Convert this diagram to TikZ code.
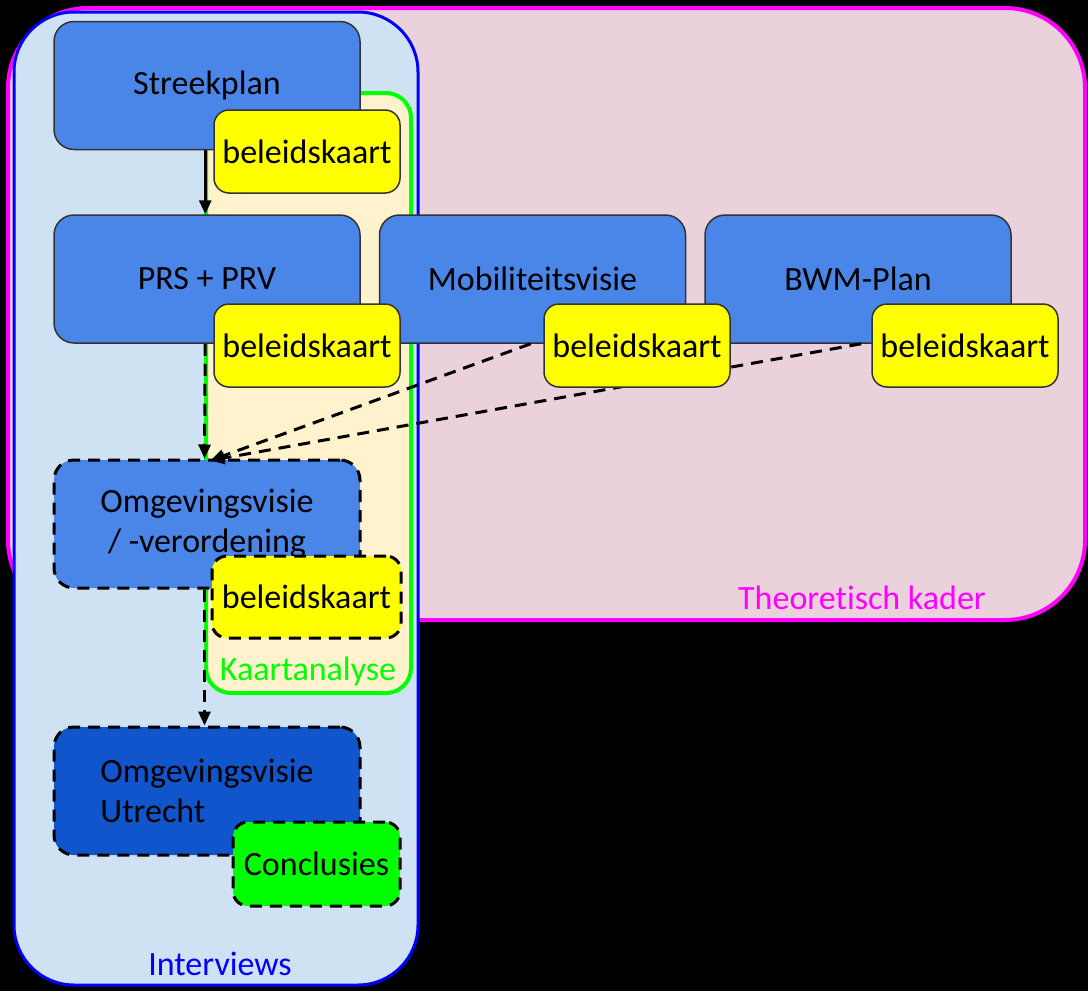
\documentclass[tikz,border=0pt]{standalone}
\usepackage{fontspec}
\setmainfont{Carlito}[Ligatures=NoCommon]
\usetikzlibrary{arrows.meta}
\definecolor{kpink}{HTML}{EAD1DC}
\definecolor{kmag}{HTML}{FF00FF}
\definecolor{klblue}{HTML}{CFE2F3}
\definecolor{kblue}{HTML}{0000FF}
\definecolor{kcream}{HTML}{FFF2CC}
\definecolor{kgreen}{HTML}{00FF00}
\definecolor{knode}{HTML}{4A86E8}
\definecolor{kdark}{HTML}{1155CC}
\definecolor{kyellow}{HTML}{FFFF00}
\definecolor{kedge}{HTML}{333333}
\tikzset{
  every node/.style={font=\fontsize{34}{40}\selectfont, inner sep=0pt},
  planbox/.style={draw=kedge, line width=1.5pt, fill=knode, rounded corners=20pt,
    minimum width=306pt, minimum height=128pt, text=black},
  mapbox/.style={draw=kedge, line width=1.5pt, fill=kyellow, rounded corners=15pt,
    minimum width=186pt, minimum height=83pt, text=black},
  dashbox/.style={line width=3pt, dash pattern=on 12pt off 8pt, draw=black},
  conn/.style={line width=3pt, -{Triangle[length=14pt,width=12pt]}},
  dconn/.style={conn, dash pattern=on 12pt off 8pt},
  grouplabel/.style={font=\fontsize{34}{40}\selectfont}
}
\begin{document}
\begin{tikzpicture}[x=1pt,y=-1pt]
\useasboundingbox (0,0) rectangle (1088,991);
\fill[black] (0,0) rectangle (1088,991);
% containers
\draw[kmag, line width=4pt, fill=kpink, rounded corners=80pt] (8,8) rectangle (1085,620);
\draw[kblue, line width=3pt, fill=klblue, rounded corners=60pt] (14,12) rectangle (418,985);
\draw[kgreen, line width=4pt, fill=kcream, rounded corners=25pt] (206,93) rectangle (411,693);
\node[grouplabel, text=kmag] (lth) at (862,598) {Theoretisch kader};
\node[grouplabel, text=kgreen] (lka) at (308,671) {Kaartanalyse};
\node[grouplabel, text=kblue] (lin) at (220,964) {Interviews};
% blue plan nodes
\node[planbox] (sp) at (207,85.5) {Streekplan};
\node[planbox] (prs) at (207,279) {PRS + PRV};
\node[planbox] (mob) at (532.5,279) {Mobiliteitsvisie};
\node[planbox] (bwm) at (858,279) {BWM-Plan};
\node[planbox, dashbox, align=center] (omg) at (207,524) {Omgevingsvisie\\/ -verordening};
\node[planbox, dashbox, fill=kdark, align=left] (utr) at (207,791) {Omgevingsvisie\\Utrecht};
% connectors
\draw[conn] ([xshift=152pt]sp.south west) -- ([xshift=152pt]prs.north west);
\draw[dconn] ([xshift=152pt]prs.south west) -- ([xshift=152pt]omg.north west);
\draw[dconn] ([xshift=152pt]mob.south west) -- ([xshift=158pt,yshift=-2pt]omg.north west);
\draw[dconn] ([xshift=157pt]bwm.south west) -- ([xshift=158pt,yshift=-2pt]omg.north west);
\draw[dconn] ([xshift=152pt]omg.south west) -- ([xshift=152pt]utr.north west);
% map nodes
\node[mapbox] (bk1) at (307,151.5) {beleidskaart};
\node[mapbox] (bk2) at (307,345.5) {beleidskaart};
\node[mapbox] (bk3) at (637,345.5) {beleidskaart};
\node[mapbox] (bk4) at (965,345.5) {beleidskaart};
\node[mapbox, dashbox, minimum width=189pt, minimum height=82pt] (bk5) at (306.5,597) {beleidskaart};
\node[mapbox, dashbox, fill=kgreen, minimum width=167pt, minimum height=84pt] (con) at (316.5,864) {Conclusies};
\end{tikzpicture}
\end{document}
